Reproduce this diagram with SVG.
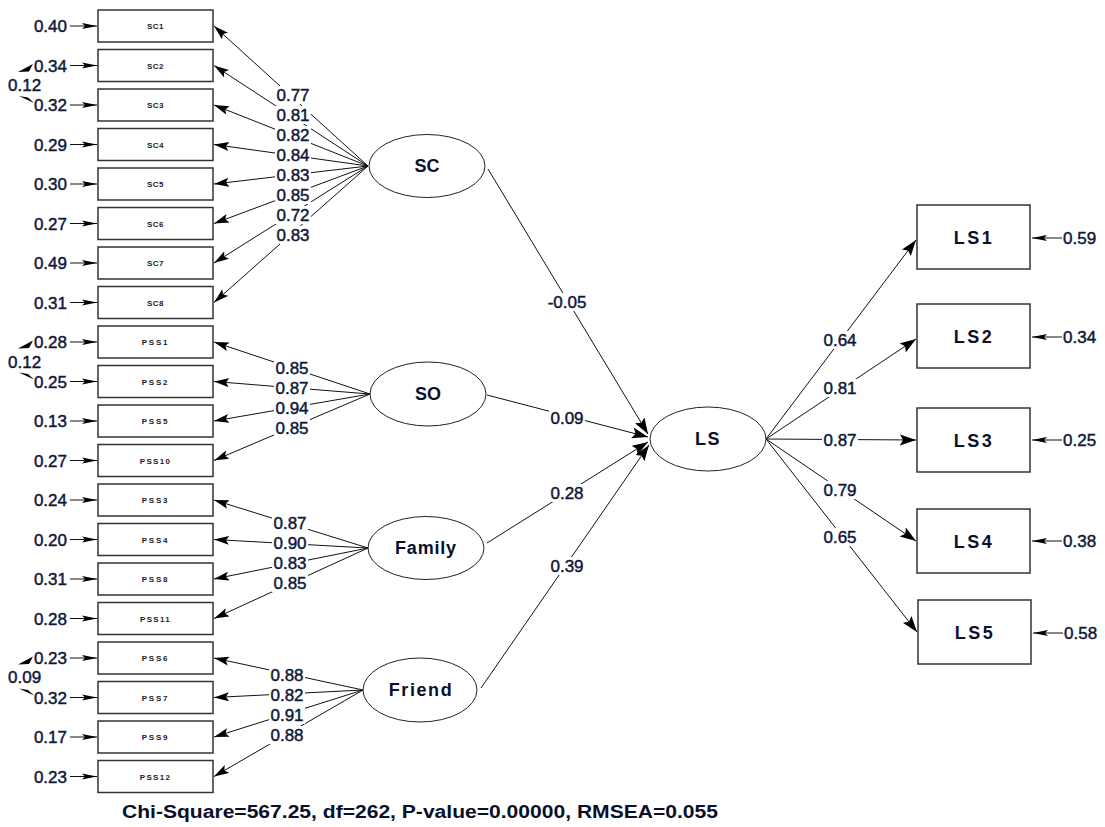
<svg xmlns="http://www.w3.org/2000/svg" width="1105" height="827" viewBox="0 0 1105 827">
<style>
.bg{fill:#ffffff}
.box{fill:#ffffff;stroke:#333;stroke-width:1.5}
.ell{fill:#ffffff;stroke:#222;stroke-width:1}
.ln{stroke:#111;stroke-width:1;fill:none}
.num{font-family:"Liberation Sans",Arial,sans-serif;font-size:17px;fill:#0f1838;stroke:#0f1838;stroke-width:0.45}
.sm{font-family:"Liberation Sans",Arial,sans-serif;font-size:8px;font-weight:bold;fill:#1a1a2a;text-anchor:middle}
.lat{font-family:"Liberation Sans",Arial,sans-serif;font-size:18px;font-weight:bold;fill:#0a0f2a;text-anchor:middle}
.lab{fill:#ffffff}
.ah{fill:#000}
</style>
<defs>
<marker id="a" markerUnits="userSpaceOnUse" markerWidth="16" markerHeight="10" refX="15" refY="4.5" orient="auto"><path d="M0,0 L15,4.5 L0,9 L3,4.5 z" fill="#000"/></marker>
<marker id="e" markerUnits="userSpaceOnUse" markerWidth="16" markerHeight="8" refX="15" refY="3.5" orient="auto"><path d="M0,0.5 L15,3.5 L0,6.5 L3,3.5 z" fill="#000"/></marker>
<marker id="b" markerUnits="userSpaceOnUse" markerWidth="17" markerHeight="12" refX="16" refY="5.5" orient="auto"><path d="M0,0 L16,5.5 L0,11 L3,5.5 z" fill="#000"/></marker>
</defs>
<rect class="bg" x="0" y="0" width="1105" height="827"/>

<g id="connectors">
<line class="ln" x1="70" y1="26" x2="97" y2="26" marker-end="url(#e)"/>
<line class="ln" x1="70" y1="65.5" x2="97" y2="65.5" marker-end="url(#e)"/>
<line class="ln" x1="70" y1="105" x2="97" y2="105" marker-end="url(#e)"/>
<line class="ln" x1="70" y1="144.5" x2="97" y2="144.5" marker-end="url(#e)"/>
<line class="ln" x1="70" y1="184" x2="97" y2="184" marker-end="url(#e)"/>
<line class="ln" x1="70" y1="223.5" x2="97" y2="223.5" marker-end="url(#e)"/>
<line class="ln" x1="70" y1="263" x2="97" y2="263" marker-end="url(#e)"/>
<line class="ln" x1="70" y1="302.5" x2="97" y2="302.5" marker-end="url(#e)"/>
<line class="ln" x1="70" y1="342" x2="97" y2="342" marker-end="url(#e)"/>
<line class="ln" x1="70" y1="381.5" x2="97" y2="381.5" marker-end="url(#e)"/>
<line class="ln" x1="70" y1="421" x2="97" y2="421" marker-end="url(#e)"/>
<line class="ln" x1="70" y1="460.5" x2="97" y2="460.5" marker-end="url(#e)"/>
<line class="ln" x1="70" y1="500" x2="97" y2="500" marker-end="url(#e)"/>
<line class="ln" x1="70" y1="539.5" x2="97" y2="539.5" marker-end="url(#e)"/>
<line class="ln" x1="70" y1="579" x2="97" y2="579" marker-end="url(#e)"/>
<line class="ln" x1="70" y1="618.5" x2="97" y2="618.5" marker-end="url(#e)"/>
<line class="ln" x1="70" y1="658" x2="97" y2="658" marker-end="url(#e)"/>
<line class="ln" x1="70" y1="697.5" x2="97" y2="697.5" marker-end="url(#e)"/>
<line class="ln" x1="70" y1="737" x2="97" y2="737" marker-end="url(#e)"/>
<line class="ln" x1="70" y1="776.5" x2="97" y2="776.5" marker-end="url(#e)"/>

<polygon class="ah" points="18,72 33,64 29,71.5"/>
<polygon class="ah" points="19,96 34,103 28,97.5"/>
<polygon class="ah" points="18,348.5 33,340.5 29,348"/>
<polygon class="ah" points="19,372.5 34,379.5 28,374"/>
<polygon class="ah" points="18,664.5 33,656.5 29,664"/>
<polygon class="ah" points="19,688.5 34,695.5 28,690"/>

<line class="ln" x1="368" y1="166" x2="214" y2="26" marker-end="url(#a)"/>
<line class="ln" x1="368" y1="166" x2="214" y2="65.5" marker-end="url(#a)"/>
<line class="ln" x1="368" y1="166" x2="214" y2="105" marker-end="url(#a)"/>
<line class="ln" x1="368" y1="166" x2="214" y2="144.5" marker-end="url(#a)"/>
<line class="ln" x1="368" y1="166" x2="214" y2="184" marker-end="url(#a)"/>
<line class="ln" x1="368" y1="166" x2="214" y2="223.5" marker-end="url(#a)"/>
<line class="ln" x1="368" y1="166" x2="214" y2="263" marker-end="url(#a)"/>
<line class="ln" x1="368" y1="166" x2="214" y2="302.5" marker-end="url(#a)"/>
<line class="ln" x1="370" y1="394" x2="214" y2="342" marker-end="url(#a)"/>
<line class="ln" x1="370" y1="394" x2="214" y2="381.5" marker-end="url(#a)"/>
<line class="ln" x1="370" y1="394" x2="214" y2="421" marker-end="url(#a)"/>
<line class="ln" x1="370" y1="394" x2="214" y2="460.5" marker-end="url(#a)"/>
<line class="ln" x1="368" y1="548" x2="214" y2="500" marker-end="url(#a)"/>
<line class="ln" x1="368" y1="548" x2="214" y2="539.5" marker-end="url(#a)"/>
<line class="ln" x1="368" y1="548" x2="214" y2="579" marker-end="url(#a)"/>
<line class="ln" x1="368" y1="548" x2="214" y2="618.5" marker-end="url(#a)"/>
<line class="ln" x1="363" y1="690" x2="214" y2="658" marker-end="url(#a)"/>
<line class="ln" x1="363" y1="690" x2="214" y2="697.5" marker-end="url(#a)"/>
<line class="ln" x1="363" y1="690" x2="214" y2="737" marker-end="url(#a)"/>
<line class="ln" x1="363" y1="690" x2="214" y2="776.5" marker-end="url(#a)"/>

<line class="ln" x1="488" y1="169" x2="648" y2="434" marker-end="url(#b)"/>
<line class="ln" x1="487" y1="395" x2="648" y2="437" marker-end="url(#b)"/>
<line class="ln" x1="487" y1="543" x2="648" y2="442" marker-end="url(#b)"/>
<line class="ln" x1="481" y1="688" x2="649" y2="445" marker-end="url(#b)"/>

<line class="ln" x1="766" y1="439" x2="916" y2="240" marker-end="url(#b)"/>
<line class="ln" x1="766" y1="439" x2="916" y2="339" marker-end="url(#b)"/>
<line class="ln" x1="766" y1="439" x2="916" y2="440" marker-end="url(#b)"/>
<line class="ln" x1="766" y1="439" x2="916" y2="541" marker-end="url(#b)"/>
<line class="ln" x1="766" y1="439" x2="917" y2="632" marker-end="url(#b)"/>

<line class="ln" x1="1062" y1="238" x2="1032" y2="238" marker-end="url(#e)"/>
<line class="ln" x1="1062" y1="337" x2="1032" y2="337" marker-end="url(#e)"/>
<line class="ln" x1="1062" y1="440" x2="1032" y2="440" marker-end="url(#e)"/>
<line class="ln" x1="1062" y1="541" x2="1032" y2="541" marker-end="url(#e)"/>
<line class="ln" x1="1063" y1="633" x2="1033" y2="633" marker-end="url(#e)"/>

<g class="lab">
<rect x="275" y="86" width="36" height="18"/>
<rect x="275" y="106" width="36" height="18"/>
<rect x="275" y="126" width="36" height="18"/>
<rect x="275" y="146" width="36" height="18"/>
<rect x="275" y="166" width="36" height="18"/>
<rect x="275" y="186" width="36" height="18"/>
<rect x="275" y="206" width="36" height="18"/>
<rect x="275" y="226" width="36" height="18"/>
<rect x="274" y="359" width="36" height="18"/>
<rect x="274" y="379" width="36" height="18"/>
<rect x="274" y="399" width="36" height="18"/>
<rect x="274" y="419" width="36" height="18"/>
<rect x="272" y="514" width="36" height="18"/>
<rect x="272" y="534" width="36" height="18"/>
<rect x="272" y="554" width="36" height="18"/>
<rect x="272" y="574" width="36" height="18"/>
<rect x="269" y="666" width="36" height="18"/>
<rect x="269" y="686" width="36" height="18"/>
<rect x="269" y="706" width="36" height="18"/>
<rect x="269" y="726" width="36" height="18"/>
<rect x="545" y="293" width="44" height="18"/>
<rect x="549" y="409" width="36" height="18"/>
<rect x="549" y="484" width="36" height="18"/>
<rect x="549" y="557" width="36" height="18"/>
<rect x="822" y="331" width="36" height="18"/>
<rect x="822" y="379" width="36" height="18"/>
<rect x="822" y="431" width="36" height="18"/>
<rect x="822" y="481" width="36" height="18"/>
<rect x="822" y="528" width="36" height="18"/>
</g>

<g class="num" text-anchor="middle">
<text x="293" y="101">0.77</text>
<text x="293" y="121">0.81</text>
<text x="293" y="141">0.82</text>
<text x="293" y="161">0.84</text>
<text x="293" y="181">0.83</text>
<text x="293" y="201">0.85</text>
<text x="293" y="221">0.72</text>
<text x="293" y="241">0.83</text>
<text x="292" y="374">0.85</text>
<text x="292" y="394">0.87</text>
<text x="292" y="414">0.94</text>
<text x="292" y="434">0.85</text>
<text x="290" y="529">0.87</text>
<text x="290" y="549">0.90</text>
<text x="290" y="569">0.83</text>
<text x="290" y="589">0.85</text>
<text x="287" y="681">0.88</text>
<text x="287" y="701">0.82</text>
<text x="287" y="721">0.91</text>
<text x="287" y="741">0.88</text>
<text x="567" y="308">-0.05</text>
<text x="567" y="424">0.09</text>
<text x="567" y="499">0.28</text>
<text x="567" y="572">0.39</text>
<text x="840" y="346">0.64</text>
<text x="840" y="394">0.81</text>
<text x="840" y="446">0.87</text>
<text x="840" y="496">0.79</text>
<text x="840" y="543">0.65</text>
</g>

<g class="num" text-anchor="end">
<text x="67" y="32">0.40</text>
<text x="67" y="71.5">0.34</text>
<text x="67" y="111">0.32</text>
<text x="67" y="150.5">0.29</text>
<text x="67" y="190">0.30</text>
<text x="67" y="229.5">0.27</text>
<text x="67" y="269">0.49</text>
<text x="67" y="308.5">0.31</text>
<text x="67" y="348">0.28</text>
<text x="67" y="387.5">0.25</text>
<text x="67" y="427">0.13</text>
<text x="67" y="466.5">0.27</text>
<text x="67" y="506">0.24</text>
<text x="67" y="545.5">0.20</text>
<text x="67" y="585">0.31</text>
<text x="67" y="624.5">0.28</text>
<text x="67" y="664">0.23</text>
<text x="67" y="703.5">0.32</text>
<text x="67" y="743">0.17</text>
<text x="67" y="782.5">0.23</text>
</g>
<g class="num">
<text x="8" y="91">0.12</text>
<text x="8" y="368">0.12</text>
<text x="8" y="683">0.09</text>
<text x="1063" y="244">0.59</text>
<text x="1063" y="343">0.34</text>
<text x="1063" y="446">0.25</text>
<text x="1063" y="547">0.38</text>
<text x="1064" y="639">0.58</text>
</g>
</g>

<g id="SC1"><rect class="box" x="98" y="10" width="115" height="32"/><text class="sm" x="155.5" y="29" letter-spacing="0.5">SC1</text></g>
<g id="SC2"><rect class="box" x="98" y="49.5" width="115" height="32"/><text class="sm" x="155.5" y="68.5" letter-spacing="0.5">SC2</text></g>
<g id="SC3"><rect class="box" x="98" y="89" width="115" height="32"/><text class="sm" x="155.5" y="108" letter-spacing="0.5">SC3</text></g>
<g id="SC4"><rect class="box" x="98" y="128.5" width="115" height="32"/><text class="sm" x="155.5" y="147.5" letter-spacing="0.5">SC4</text></g>
<g id="SC5"><rect class="box" x="98" y="168" width="115" height="32"/><text class="sm" x="155.5" y="187" letter-spacing="0.5">SC5</text></g>
<g id="SC6"><rect class="box" x="98" y="207.5" width="115" height="32"/><text class="sm" x="155.5" y="226.5" letter-spacing="0.5">SC6</text></g>
<g id="SC7"><rect class="box" x="98" y="247" width="115" height="32"/><text class="sm" x="155.5" y="266" letter-spacing="0.5">SC7</text></g>
<g id="SC8"><rect class="box" x="98" y="286.5" width="115" height="32"/><text class="sm" x="155.5" y="305.5" letter-spacing="0.5">SC8</text></g>
<g id="PSS1"><rect class="box" x="98" y="326" width="115" height="32"/><text class="sm" x="155.5" y="345" letter-spacing="1.8">PSS1</text></g>
<g id="PSS2"><rect class="box" x="98" y="365.5" width="115" height="32"/><text class="sm" x="155.5" y="384.5" letter-spacing="1.8">PSS2</text></g>
<g id="PSS5"><rect class="box" x="98" y="405" width="115" height="32"/><text class="sm" x="155.5" y="424" letter-spacing="1.8">PSS5</text></g>
<g id="PSS10"><rect class="box" x="98" y="444.5" width="115" height="32"/><text class="sm" x="155.5" y="463.5" letter-spacing="1.3">PSS10</text></g>
<g id="PSS3"><rect class="box" x="98" y="484" width="115" height="32"/><text class="sm" x="155.5" y="503" letter-spacing="1.8">PSS3</text></g>
<g id="PSS4"><rect class="box" x="98" y="523.5" width="115" height="32"/><text class="sm" x="155.5" y="542.5" letter-spacing="1.8">PSS4</text></g>
<g id="PSS8"><rect class="box" x="98" y="563" width="115" height="32"/><text class="sm" x="155.5" y="582" letter-spacing="1.8">PSS8</text></g>
<g id="PSS11"><rect class="box" x="98" y="602.5" width="115" height="32"/><text class="sm" x="155.5" y="621.5" letter-spacing="1.3">PSS11</text></g>
<g id="PSS6"><rect class="box" x="98" y="642" width="115" height="32"/><text class="sm" x="155.5" y="661" letter-spacing="1.8">PSS6</text></g>
<g id="PSS7"><rect class="box" x="98" y="681.5" width="115" height="32"/><text class="sm" x="155.5" y="700.5" letter-spacing="1.8">PSS7</text></g>
<g id="PSS9"><rect class="box" x="98" y="721" width="115" height="32"/><text class="sm" x="155.5" y="740" letter-spacing="1.8">PSS9</text></g>
<g id="PSS12"><rect class="box" x="98" y="760.5" width="115" height="32"/><text class="sm" x="155.5" y="779.5" letter-spacing="1.3">PSS12</text></g>

<g id="SC"><ellipse class="ell" cx="427" cy="166" rx="58" ry="31.5"/><text class="lat" x="427" y="172">SC</text></g>
<g id="SO"><ellipse class="ell" cx="428" cy="394" rx="58" ry="32"/><text class="lat" x="428" y="400">SO</text></g>
<g id="Family"><ellipse class="ell" cx="426" cy="548" rx="58" ry="31.5"/><text class="lat" x="426" y="554" letter-spacing="0.8">Family</text></g>
<g id="Friend"><ellipse class="ell" cx="420" cy="690" rx="57" ry="32"/><text class="lat" x="421" y="696" letter-spacing="1.6">Friend</text></g>
<g id="LS"><ellipse class="ell" cx="708" cy="439" rx="58" ry="32"/><text class="lat" x="708" y="445" letter-spacing="1.5">LS</text></g>

<g id="LS1"><rect class="box" x="917" y="205" width="113" height="64"/><text class="lat" x="974" y="244" letter-spacing="2.5">LS1</text></g>
<g id="LS2"><rect class="box" x="917" y="304" width="113" height="64"/><text class="lat" x="974" y="343" letter-spacing="2.5">LS2</text></g>
<g id="LS3"><rect class="box" x="917" y="408" width="113" height="64"/><text class="lat" x="974" y="447" letter-spacing="2.5">LS3</text></g>
<g id="LS4"><rect class="box" x="917" y="509" width="113" height="64"/><text class="lat" x="974" y="548" letter-spacing="2.5">LS4</text></g>
<g id="LS5"><rect class="box" x="918" y="600" width="113" height="64"/><text class="lat" x="975" y="639" letter-spacing="2.5">LS5</text></g>

<text x="122" y="818" font-family="Liberation Sans, Arial, sans-serif" font-size="18" font-weight="bold" fill="#0a0f2a" textLength="596" lengthAdjust="spacingAndGlyphs">Chi-Square=567.25, df=262, P-value=0.00000, RMSEA=0.055</text>
</svg>
